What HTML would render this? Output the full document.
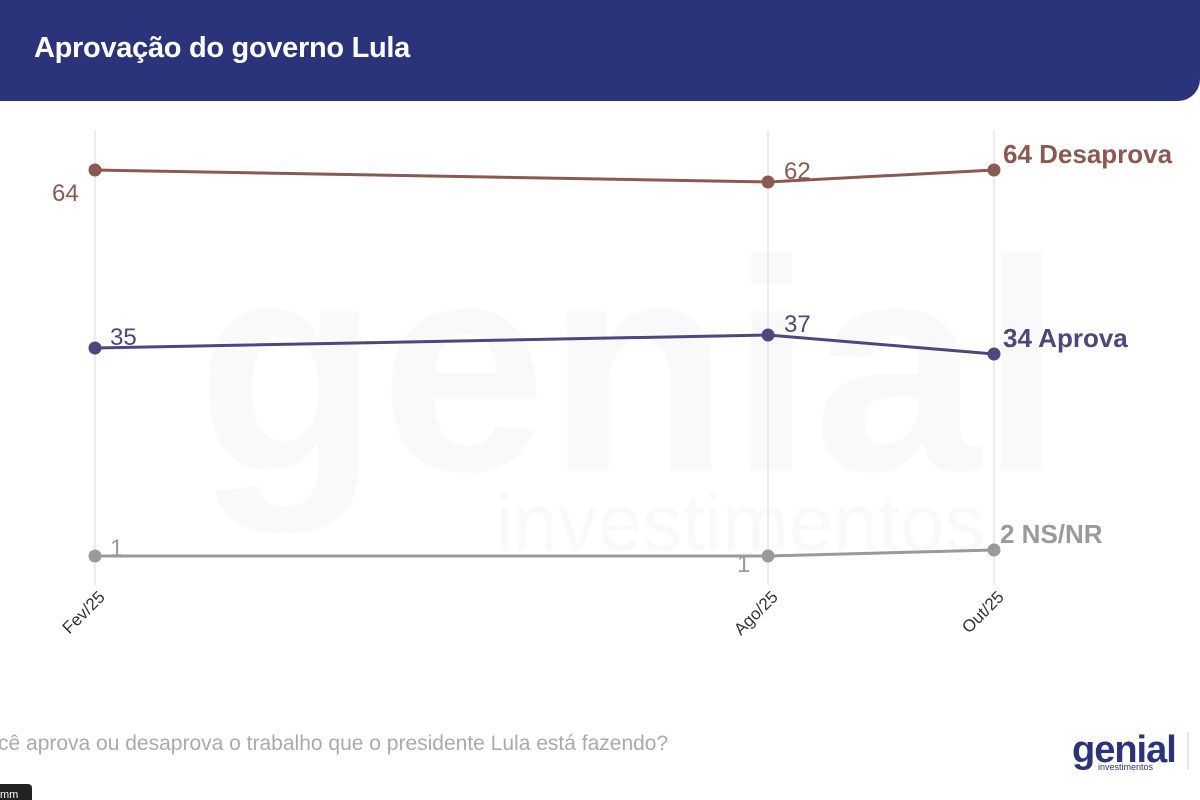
<!DOCTYPE html>
<html><head><meta charset="utf-8"><style>
body{margin:0;width:1200px;height:800px;background:#fff;overflow:hidden;font-family:"Liberation Sans",sans-serif;position:relative}
</style></head><body>
<div style="position:absolute;left:0;top:0;width:1200px;height:101px;background:#2b347a;border-bottom-right-radius:22px"></div>
<div style="position:absolute;left:34px;top:32px;color:#fff;font-weight:bold;font-size:29px;letter-spacing:-0.3px">Aprovação do governo Lula</div>
<svg width="1200" height="800" style="position:absolute;left:0;top:0" font-family="Liberation Sans, sans-serif">
<text x="630" y="470" text-anchor="middle" font-size="300" font-weight="bold" fill="#f9f9f9">genial</text>
<text x="740" y="550" text-anchor="middle" font-size="80" fill="#f9f9f9">investimentos</text>
<g stroke="#e6e6e6" stroke-width="1.5"><line x1="95" y1="130" x2="95" y2="585"/><line x1="768" y1="130" x2="768" y2="585"/><line x1="994" y1="130" x2="994" y2="585"/></g>
<polyline points="95,170 768,182 994,170" fill="none" stroke="#8c5952" stroke-width="3"/>
<polyline points="95,348 768,335 994,354" fill="none" stroke="#4b477f" stroke-width="3"/>
<polyline points="95,556 768,556 994,550" fill="none" stroke="#9a9a9a" stroke-width="3"/>
<g fill="#8c5952"><circle cx="95" cy="170" r="6.5"/><circle cx="768" cy="182" r="6.5"/><circle cx="994" cy="170" r="6.5"/></g>
<g fill="#4b477f"><circle cx="95" cy="348" r="6.5"/><circle cx="768" cy="335" r="6.5"/><circle cx="994" cy="354" r="6.5"/></g>
<g fill="#9a9a9a"><circle cx="95" cy="556" r="6.5"/><circle cx="768" cy="556" r="6.5"/><circle cx="994" cy="550" r="6.5"/></g>
<g font-size="24"><text x="52" y="201" fill="#8c5952">64</text><text x="784" y="179" fill="#8c5952">62</text>
<text x="110" y="345" fill="#4b477f">35</text><text x="784" y="332" fill="#4b477f">37</text>
<text x="110" y="556" fill="#9a9a9a">1</text><text x="737" y="572" fill="#9a9a9a">1</text></g>
<g font-size="26" font-weight="bold"><text x="1003" y="163" fill="#8c5952">64 Desaprova</text>
<text x="1003" y="347" fill="#4b477f">34 Aprova</text><text x="1000" y="543" fill="#9a9a9a">2 NS/NR</text></g>
<g font-size="17" fill="#333" text-anchor="end"><text transform="translate(106,598) rotate(-45)">Fev/25</text>
<text transform="translate(779,598) rotate(-45)">Ago/25</text><text transform="translate(1005,598) rotate(-45)">Out/25</text></g>
<text x="-2" y="750" font-size="21" fill="#aaa">cê aprova ou desaprova o trabalho que o presidente Lula está fazendo?</text>
<text x="1072" y="762" font-size="38" font-weight="bold" fill="#2b347a" letter-spacing="-1">genial</text>
<text x="1098" y="770" font-size="9" fill="#2b347a">investimentos</text>
<line x1="1188" y1="732" x2="1188" y2="770" stroke="#ccc"/>
<rect x="-5" y="784" width="37" height="20" rx="4" fill="#222"/>
<text x="0" y="798" font-size="11" fill="#fff">mm</text>
</svg>
</body></html>
